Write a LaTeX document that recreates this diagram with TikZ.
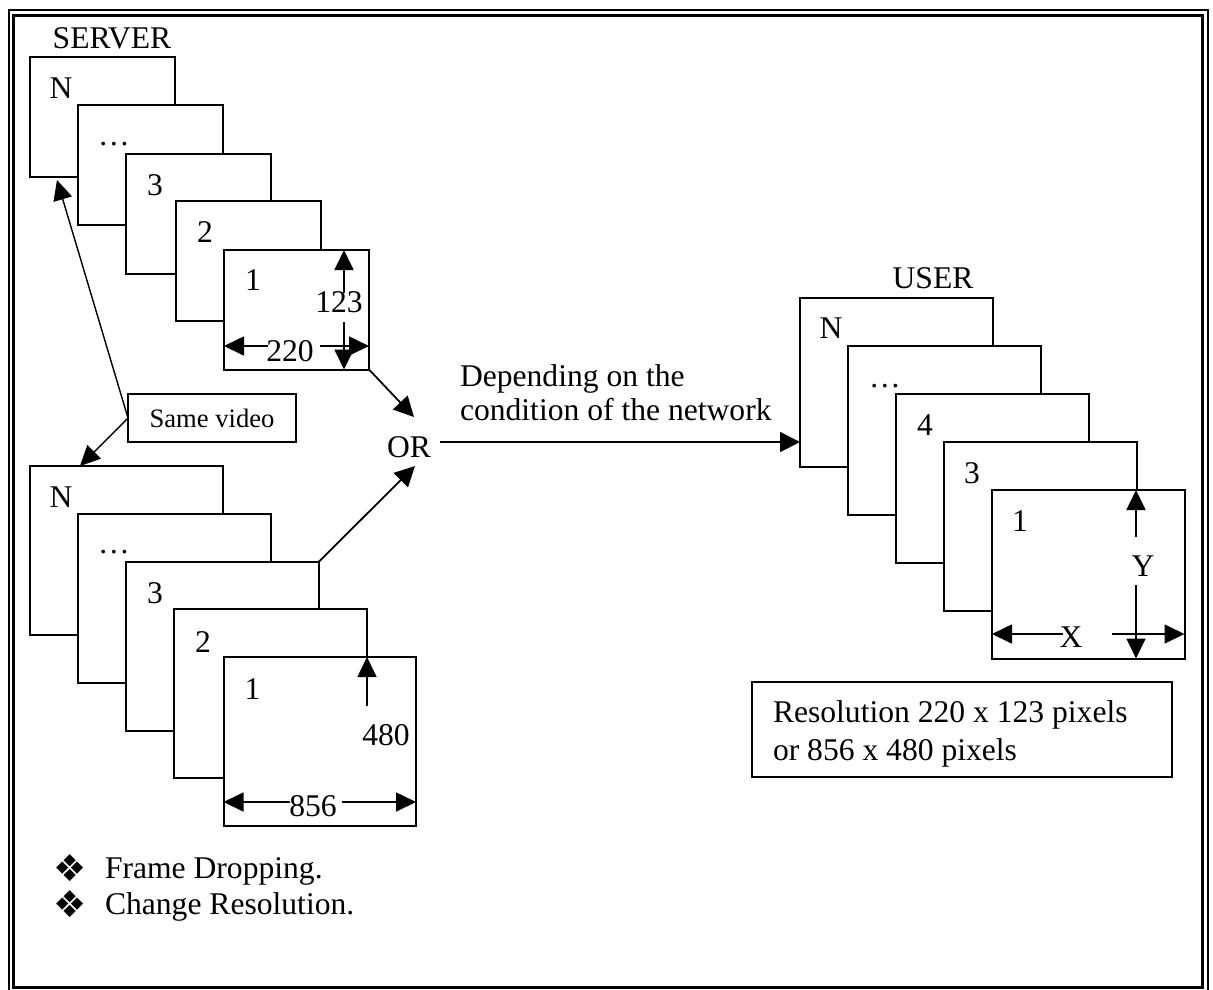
\documentclass[tikz,border=0pt]{standalone}
\usepackage{fontspec}
\setmainfont{Liberation Serif}
\newfontfamily\dingfont{DejaVu Sans}
\usetikzlibrary{arrows.meta,calc}
\begin{document}
\begin{tikzpicture}[x=1pt,y=-1pt,
  every node/.style={font=\fontsize{31.6}{34}\selectfont, inner sep=0pt, outer sep=0pt},
  frame/.style={draw, fill=white, line width=2pt, anchor=north west},
  small/.style={minimum width=145pt, minimum height=119.5pt},
  big/.style={minimum width=192.5pt, minimum height=168.5pt},
  num/.style={anchor=base},
  dim/.style={line width=1.7pt, -{Triangle[length=20pt,width=19pt]}},
  conn/.style={line width=1.8pt, -{Triangle[length=20pt,width=20pt]}},
  thinconn/.style={line width=1.4pt, -{Triangle[length=20pt,width=19pt]}},
  bullet/.style={anchor=base, font=\dingfont\fontsize{37}{37}\selectfont},
]
\useasboundingbox (0,0) rectangle (1213,989);
% double border
\draw[line width=2pt] (8.5,9.5) rectangle (1207.5,996);
\draw[line width=3pt] (13.5,15) rectangle (1202.5,987.5);

% titles
\node[anchor=base] (server) at (112,48) {SERVER};
\node[anchor=base] (user) at (933,288) {USER};

% ---- top server stack (220 x 123)
\node[frame, small] (sN) at (30,57) {};
\node[num] (sNl) at ($(sN.north west)+(31,41)$) {N};
\node[frame, small] (sD) at (78,105) {};
\node[anchor=base] (sDl) at ($(sD.north west)+(36,40)$) {…};
\node[frame, small] (s3) at (126,154) {};
\node[num] (s3l) at ($(s3.north west)+(29,41)$) {3};
\node[frame, small] (s2) at (176,201) {};
\node[num] (s2l) at ($(s2.north west)+(29,41)$) {2};
\node[frame, small] (s1) at (224,250) {};
\node[num] (s1l) at ($(s1.north west)+(29,40)$) {1};

\coordinate (h123a) at (344,293); \coordinate (h123b) at (344,322);
\draw[dim] (h123a) -- (h123a |- s1.north);
\draw[dim] (h123b) -- (h123b |- s1.south);
\node (t123) at (339,302) {123};
\coordinate (w220a) at (268,346); \coordinate (w220b) at (320,346);
\draw[dim] (w220a) -- (w220a -| s1.west);
\draw[dim] (w220b) -- (w220b -| s1.east);
\node (t220) at (290,351) {220};

% ---- bottom server stack (856 x 480)
\node[frame, big] (bN) at (30,466) {};
\node[num] (bNl) at ($(bN.north west)+(31,41)$) {N};
\node[frame, big] (bD) at (78,514) {};
\node[anchor=base] (bDl) at ($(bD.north west)+(36,39)$) {…};
\node[frame, big] (b3) at (126,562) {};
\node[num] (b3l) at ($(b3.north west)+(29,41)$) {3};
\node[frame, big] (b2) at (174,609) {};
\node[num] (b2l) at ($(b2.north west)+(29,43)$) {2};
\node[frame, big] (b1) at (223.5,657) {};
\node[num] (b1l) at ($(b1.north west)+(29,42)$) {1};

\coordinate (h480) at (367,706);
\draw[dim] (h480) -- (h480 |- b1.north);
\node[anchor=base] (t480) at (386,745) {480};
\coordinate (w856a) at (290,802); \coordinate (w856b) at (342,802);
\draw[dim] (w856a) -- (w856a -| b1.west);
\draw[dim] (w856b) -- (w856b -| b1.east);
\node (t856) at (313,806) {856};

% ---- user stack
\node[frame, big] (uN) at (800,298) {};
\node[num] (uNl) at ($(uN.north west)+(31,40)$) {N};
\node[frame, big] (uD) at (848,346) {};
\node[anchor=base] (uDl) at ($(uD.north west)+(37,41)$) {…};
\node[frame, big] (u4) at (896,394) {};
\node[num] (u4l) at ($(u4.north west)+(29,41)$) {4};
\node[frame, big] (u3) at (944,442) {};
\node[num] (u3l) at ($(u3.north west)+(28,41)$) {3};
\node[frame, big] (u1) at (992,490) {};
\node[num] (u1l) at ($(u1.north west)+(28,41)$) {1};

\coordinate (hYa) at (1136,537); \coordinate (hYb) at (1136,585);
\draw[dim] (hYa) -- (hYa |- u1.north);
\draw[dim] (hYb) -- (hYb |- u1.south);
\node (tY) at (1143,566) {Y};
\coordinate (wXa) at (1063,634); \coordinate (wXb) at (1112,634);
\draw[dim] (wXa) -- (wXa -| u1.west);
\draw[dim] (wXb) -- (wXb -| u1.east);
\node (tX) at (1071,637) {X};

% ---- same video
\node[draw, line width=2pt, minimum width=168pt, minimum height=48pt,
      font=\fontsize{26.6}{30}\selectfont] (same) at (212,418) {Same video};
\coordinate (sameup) at (57,180);
\coordinate (samedn) at (80,466);
\draw[thinconn] (same.west) -- (sameup);
\draw[thinconn] (same.west) -- (samedn);

% ---- OR and connectors
\node[anchor=base] (orn) at (409,457) {OR};
\coordinate (ortop) at (414,417);
\coordinate (orbot) at (415,466);
\draw[conn] (s1.south east) -- (ortop);
\draw[conn] (b3.north east) -- (orbot);
\coordinate (longa) at (440,442);
\draw[conn] (longa) -- (longa -| uN.west);
\node[anchor=base west] (dep1) at (460,386) {Depending on the};
\node[anchor=base west] (dep2) at (460,420) {condition of the network};

% ---- resolution box
\node[draw, line width=2.7pt, anchor=north west, minimum width=420pt, minimum height=95pt] (res) at (752,682) {};
\node[anchor=base west] (res1) at (773,722) {Resolution 220 x 123 pixels};
\node[anchor=base west] (res2) at (773,760) {or 856 x 480 pixels};

% ---- bullets
\node[bullet] (bu1) at (70,881) {❖};
\node[anchor=base west] (fd) at (105,878) {Frame Dropping.};
\node[bullet] (bu2) at (70,917) {❖};
\node[anchor=base west] (cr) at (105,914) {Change Resolution.};
\end{tikzpicture}
\end{document}
